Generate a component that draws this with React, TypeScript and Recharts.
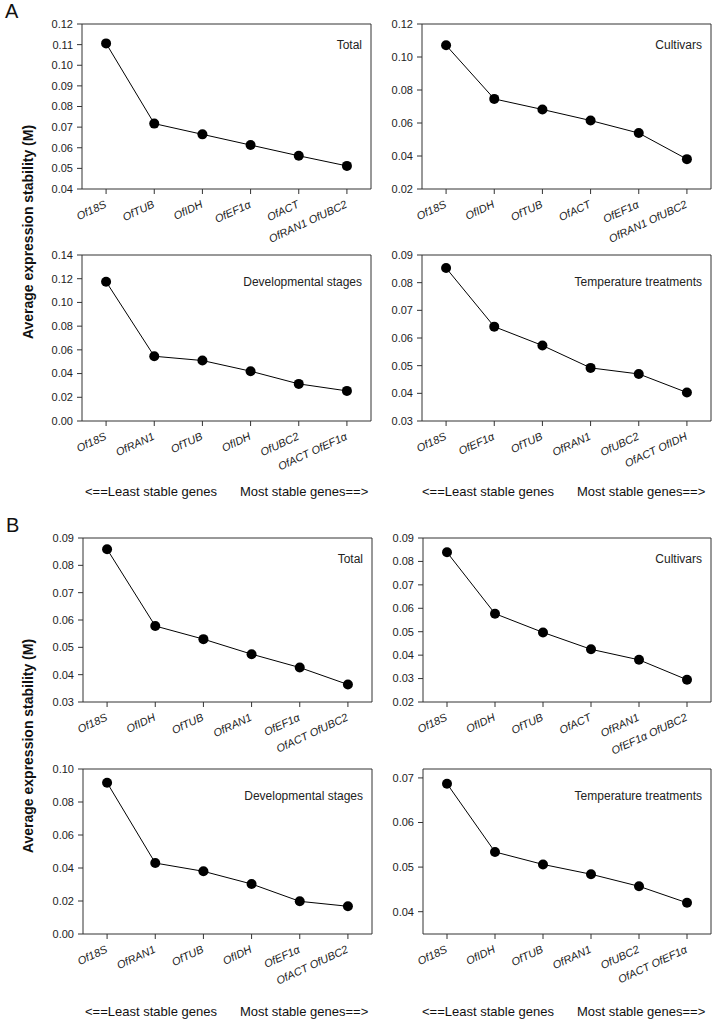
import React from 'react';
import { LineChart, Line, XAxis, YAxis, ReferenceArea } from 'recharts';

const FONT = '"Liberation Sans", Arial, Helvetica, sans-serif';

// A – Total
const aTotalGenes = ['Of18S', 'OfTUB', 'OfIDH', 'OfEF1α', 'OfACT', 'OfRAN1 OfUBC2'];
const aTotalM = [0.1106, 0.0717, 0.0665, 0.0613, 0.0561, 0.0512];
const aTotalTicks = [0.04, 0.05, 0.06, 0.07, 0.08, 0.09, 0.1, 0.11, 0.12];

// A – Cultivars
const aCultGenes = ['Of18S', 'OfIDH', 'OfTUB', 'OfACT', 'OfEF1α', 'OfRAN1 OfUBC2'];
const aCultM = [0.1071, 0.0746, 0.0682, 0.0615, 0.0539, 0.0381];
const aCultTicks = [0.02, 0.04, 0.06, 0.08, 0.1, 0.12];

// A – Developmental stages
const aDevGenes = ['Of18S', 'OfRAN1', 'OfTUB', 'OfIDH', 'OfUBC2', 'OfACT OfEF1α'];
const aDevM = [0.1175, 0.0546, 0.051, 0.042, 0.0313, 0.0254];
const aDevTicks = [0, 0.02, 0.04, 0.06, 0.08, 0.1, 0.12, 0.14];

// A – Temperature treatments
const aTempGenes = ['Of18S', 'OfEF1α', 'OfTUB', 'OfRAN1', 'OfUBC2', 'OfACT OfIDH'];
const aTempM = [0.0853, 0.0641, 0.0573, 0.0492, 0.047, 0.0403];
const aTempTicks = [0.03, 0.04, 0.05, 0.06, 0.07, 0.08, 0.09];

// B – Total
const bTotalGenes = ['Of18S', 'OfIDH', 'OfTUB', 'OfRAN1', 'OfEF1α', 'OfACT OfUBC2'];
const bTotalM = [0.0859, 0.0578, 0.053, 0.0475, 0.0426, 0.0364];
const bTotalTicks = [0.03, 0.04, 0.05, 0.06, 0.07, 0.08, 0.09];

// B – Cultivars
const bCultGenes = ['Of18S', 'OfIDH', 'OfTUB', 'OfACT', 'OfRAN1', 'OfEF1α  OfUBC2'];
const bCultM = [0.0839, 0.0577, 0.0497, 0.0425, 0.038, 0.0295];
const bCultTicks = [0.02, 0.03, 0.04, 0.05, 0.06, 0.07, 0.08, 0.09];

// B – Developmental stages
const bDevGenes = ['Of18S', 'OfRAN1', 'OfTUB', 'OfIDH', 'OfEF1α', 'OfACT OfUBC2'];
const bDevM = [0.0917, 0.043, 0.038, 0.0303, 0.0198, 0.0168];
const bDevTicks = [0, 0.02, 0.04, 0.06, 0.08, 0.1];

// B – Temperature treatments
const bTempGenes = ['Of18S', 'OfIDH', 'OfTUB', 'OfRAN1', 'OfUBC2', 'OfACT OfEF1α'];
const bTempM = [0.0687, 0.0534, 0.0506, 0.0484, 0.0457, 0.042];
const bTempTicks = [0.04, 0.05, 0.06, 0.07];

const Y_W = 40;
const M_TOP = 5;
const X_H = 75;

function Panel({ genes, values, ticks, domain, title, titleDy, x, y, w, h }) {
  const data = genes.map((g, i) => ({ i, gene: g, m: values[i] }));
  const idx = genes.map((_, i) => i);

  const geneTick = (p) => {
    const ty = p.y + 11;
    return (
      <text x={p.x + 1} y={ty} transform={`rotate(-25, ${p.x + 1}, ${ty})`} textAnchor="end"
        fontStyle="italic" fontSize={11} fill="#222" fontFamily={FONT}>
        {genes[p.payload.value]}
      </text>
    );
  };

  const titleLabel = (p) => {
    const vb = p.viewBox;
    return (
      <text x={vb.x + vb.width - 9} y={vb.y + titleDy} textAnchor="end" fontSize={12} fill="#222" fontFamily={FONT}>
        {title}
      </text>
    );
  };

  return (
    <div style={{ position: 'absolute', left: x - Y_W, top: y - M_TOP }}>
      <LineChart width={Y_W + w + 5} height={M_TOP + h + X_H} data={data}
        margin={{ top: M_TOP, right: 5, bottom: 0, left: 0 }}>
        <XAxis dataKey="i" type="number" domain={[-0.5, genes.length - 0.5]} ticks={idx}
          height={X_H} axisLine={false} tickSize={5} tickMargin={2}
          tickLine={{ stroke: '#333' }} tick={geneTick} interval={0} />
        <YAxis type="number" domain={domain} ticks={ticks} width={Y_W} axisLine={false}
          tickSize={5} tickMargin={4} tickLine={{ stroke: '#333' }} interval={0}
          tickFormatter={(v) => v.toFixed(2)}
          tick={{ fontSize: 11, fill: '#222', fontFamily: FONT }} />
        <ReferenceArea x1={-0.5} x2={genes.length - 0.5} y1={domain[0]} y2={domain[1]}
          fill="none" stroke="#333" strokeWidth={1} label={titleLabel} />
        <Line dataKey="m" type="linear" stroke="#000" strokeWidth={1}
          dot={{ r: 5, fill: '#000', stroke: '#000', strokeWidth: 0 }}
          isAnimationActive={false} />
      </LineChart>
    </div>
  );
}

const textStyle = { position: 'absolute', fontFamily: FONT, color: '#111', whiteSpace: 'nowrap' } as const;

function Footer({ left, mostLeft, top }) {
  return (
    <>
      <div style={{ ...textStyle, left, top, fontSize: 13 }}>{'<==Least stable genes'}</div>
      <div style={{ ...textStyle, left: mostLeft, top, fontSize: 13 }}>{'Most stable genes==>'}</div>
    </>
  );
}

function YTitle({ cy }) {
  return (
    <div style={{ ...textStyle, left: 28, top: cy, fontSize: 14, fontWeight: 'bold',
      transform: 'translate(-50%, -50%) rotate(-90deg)' }}>
      Average expression stability (M)
    </div>
  );
}

export default function App() {
  return (
    <div style={{ position: 'absolute', left: 0, top: 0, width: 718, height: 1023, background: '#fff', overflow: 'hidden' }}>
      <div style={{ ...textStyle, left: 5, top: 0, fontSize: 20 }}>A</div>
      <div style={{ ...textStyle, left: 6, top: 514, fontSize: 20 }}>B</div>
      <YTitle cy={232} />
      <YTitle cy={746} />

      <Panel genes={aTotalGenes} values={aTotalM} ticks={aTotalTicks} domain={[0.04, 0.12]}
        title="Total" titleDy={25} x={82} y={24} w={289} h={165} />
      <Panel genes={aCultGenes} values={aCultM} ticks={aCultTicks} domain={[0.02, 0.12]}
        title="Cultivars" titleDy={25} x={422} y={24} w={289} h={165} />
      <Panel genes={aDevGenes} values={aDevM} ticks={aDevTicks} domain={[0, 0.14]}
        title="Developmental stages" titleDy={31} x={82} y={255} w={289} h={166} />
      <Panel genes={aTempGenes} values={aTempM} ticks={aTempTicks} domain={[0.03, 0.09]}
        title="Temperature treatments" titleDy={31} x={422} y={255} w={289} h={166} />

      <Panel genes={bTotalGenes} values={bTotalM} ticks={bTotalTicks} domain={[0.03, 0.09]}
        title="Total" titleDy={25} x={83} y={538} w={289} h={164} />
      <Panel genes={bCultGenes} values={bCultM} ticks={bCultTicks} domain={[0.02, 0.09]}
        title="Cultivars" titleDy={25} x={423} y={538} w={288} h={164} />
      <Panel genes={bDevGenes} values={bDevM} ticks={bDevTicks} domain={[0, 0.1]}
        title="Developmental stages" titleDy={31} x={83} y={769} w={289} h={165} />
      <Panel genes={bTempGenes} values={bTempM} ticks={bTempTicks} domain={[0.035, 0.072]}
        title="Temperature treatments" titleDy={31} x={423} y={769} w={288} h={165} />

      <Footer left={85} mostLeft={240} top={484} />
      <Footer left={422} mostLeft={577} top={484} />
      <Footer left={85} mostLeft={240} top={1004} />
      <Footer left={422} mostLeft={577} top={1004} />
    </div>
  );
}
